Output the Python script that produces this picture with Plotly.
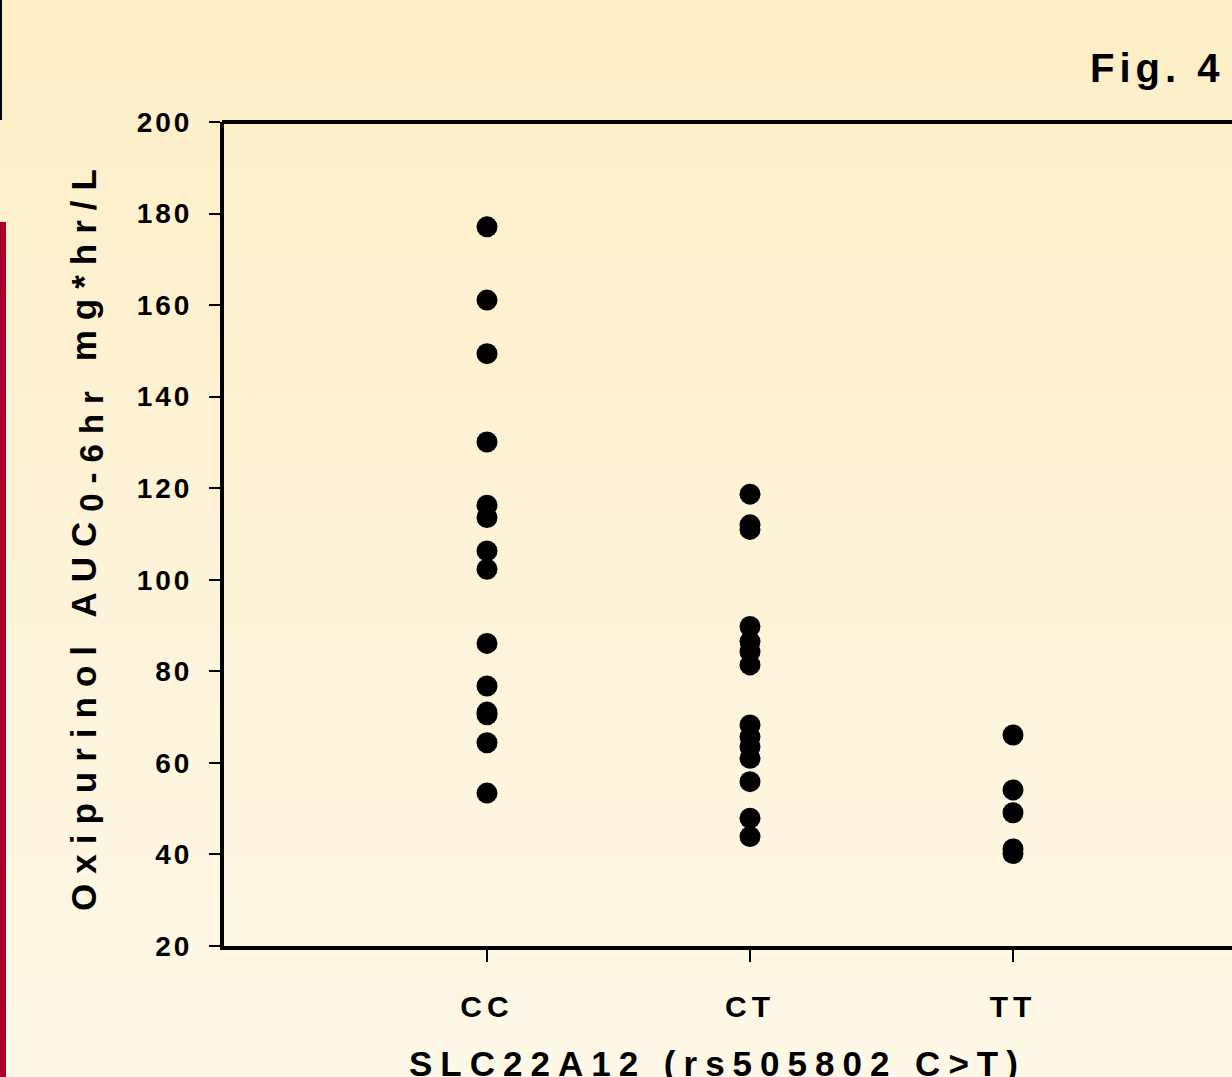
import base64
import plotly.graph_objects as go

# ---- data ----
genotypes = ["CC", "CT", "TT"]
cc_values = [177.1, 161.1, 149.4, 130.1, 116.3, 113.6, 106.3, 102.3, 86.1, 76.8, 71.1, 70.5, 64.4, 53.4]
ct_values = [118.7, 112.0, 111.0, 89.8, 86.5, 84.3, 81.4, 68.3, 65.7, 63.5, 61.0, 55.9, 47.9, 43.9]
tt_values = [66.1, 54.1, 49.1, 41.2, 40.2]
y_ticks = [20, 40, 60, 80, 100, 120, 140, 160, 180, 200]
y_tick_labels = ["20", "40", "60", "80", "100", "120", "140", "160", "180", "200"]
x_title = "SLC22A12 (rs505802 C&gt;T)"
y_title_main = "Oxipurinol AUC"
y_title_sub = "0-6hr"
y_title_unit = " mg*hr/L"
fig_label = "Fig. 4"

W, H = 1232, 1077
L, R, T, B = 224, 0, 122, 131
PW, PH = W - L - R, H - T - B
FONT = "Liberation Sans, Arial, sans-serif"


def sp(text, ls):
    return f"<span style='letter-spacing:{ls}px'>{text}</span>"


def px_x(px):
    return (px - L) / PW


def px_y(py):
    return (H - B - py) / PH


series = {"CC": cc_values, "CT": ct_values, "TT": tt_values}

fig = go.Figure()
for g in genotypes:
    vals = series[g]
    fig.add_trace(go.Scatter(
        x=[g] * len(vals), y=vals, mode="markers",
        marker=dict(color="black", size=21, line=dict(width=0)),
        showlegend=False, hoverinfo="skip"))

# background gradient as svg image
svg = ('<svg xmlns="http://www.w3.org/2000/svg" width="100" height="100" preserveAspectRatio="none">'
       '<defs><linearGradient id="g" x1="0" y1="0" x2="0" y2="1">'
       '<stop offset="0" stop-color="#FDEEC6"/><stop offset="1" stop-color="#FEF8E8"/>'
       '</linearGradient></defs><rect width="100" height="100" fill="url(#g)"/></svg>')
uri = "data:image/svg+xml;base64," + base64.b64encode(svg.encode()).decode()

y_title = (f"<span style='letter-spacing:10px'>{y_title_main}"
           f"<sub><span style='font-size:33px'>{y_title_sub}</span></sub>"
           f"{y_title_unit}</span>")

fig.update_layout(
    width=W, height=H,
    margin=dict(l=L, r=R, t=T, b=B, pad=0),
    paper_bgcolor="#FEF4DA",
    plot_bgcolor="rgba(0,0,0,0)",
    font=dict(family=FONT, color="black", weight="bold"),
    images=[dict(source=uri, xref="paper", yref="paper",
                 x=px_x(0), y=px_y(0), sizex=W / PW, sizey=H / PH,
                 xanchor="left", yanchor="top", sizing="stretch", layer="below")],
    xaxis=dict(
        type="category", categoryorder="array", categoryarray=genotypes,
        range=[-1, W / 263 - 1 - (L / 263)],
        showline=True, linewidth=4, linecolor="black",
        ticks="outside", ticklen=12, tickwidth=2, tickcolor="black",
        tickvals=genotypes, ticktext=[sp(t, 5) for t in genotypes],
        tickfont=dict(size=30, family=FONT, weight="bold"),
        ticklabelstandoff=19,
        showgrid=False, zeroline=False, fixedrange=True),
    yaxis=dict(
        range=[20, 200],
        showline=True, linewidth=4, linecolor="black",
        ticks="outside", ticklen=11, tickwidth=2, tickcolor="black",
        tickvals=y_ticks, ticktext=[sp(t, 3) for t in y_tick_labels],
        tickfont=dict(size=28, family=FONT, weight="bold"),
        ticklabelstandoff=11,
        showgrid=False, zeroline=False, fixedrange=True),
    shapes=[
        # top border of the plot box
        dict(type="line", xref="paper", yref="paper", x0=px_x(222), x1=px_x(W + 5),
             y0=1, y1=1, line=dict(color="black", width=4)),
        # thin black line top-left
        dict(type="line", xref="paper", yref="paper", x0=px_x(1), x1=px_x(1),
             y0=px_y(0), y1=px_y(120), line=dict(color="black", width=2)),
        # red bar on the left
        dict(type="rect", xref="paper", yref="paper", x0=px_x(0), x1=px_x(6),
             y0=px_y(222), y1=px_y(H + 5), fillcolor="#A80028", line=dict(width=0)),
    ],
    annotations=[
        dict(text=y_title, xref="paper", yref="paper", x=px_x(87), y=px_y(535),
             textangle=-90, showarrow=False, xanchor="center", yanchor="middle",
             font=dict(size=35, family=FONT, weight="bold")),
        dict(text=sp(x_title, 8), xref="paper", yref="paper", x=px_x(717), y=px_y(1063),
             showarrow=False, xanchor="center", yanchor="middle",
             font=dict(size=35, family=FONT, weight="bold")),
        dict(text=sp(fig_label, 5), xref="paper", yref="paper", x=px_x(1226), y=px_y(68),
             showarrow=False, xanchor="right", yanchor="middle",
             font=dict(size=40, family=FONT, weight="bold")),
    ],
)

fig.write_html("out.html", config={"displayModeBar": False},
               post_script="document.body.style.margin='0px';document.body.style.padding='0px';")
